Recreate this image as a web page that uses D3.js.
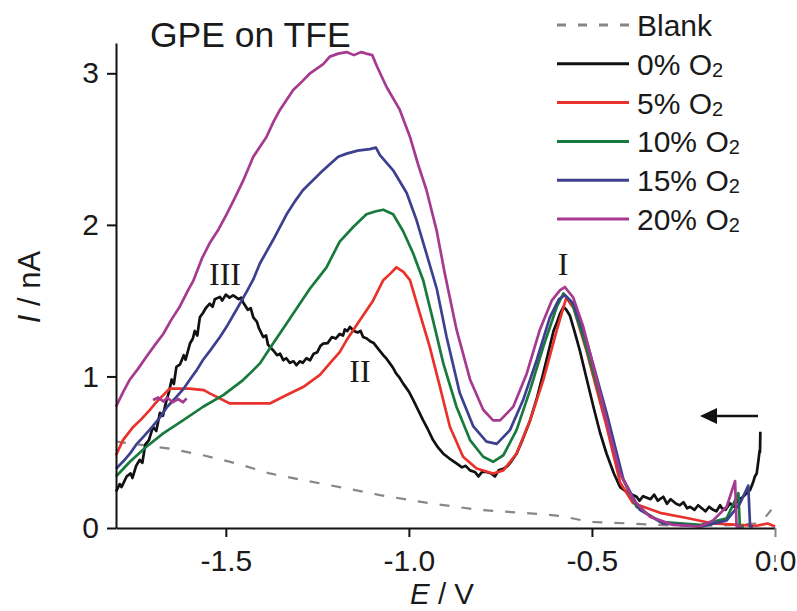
<!DOCTYPE html>
<html>
<head>
<meta charset="utf-8">
<script src="https://cdn.jsdelivr.net/npm/d3@7"></script>
<style>
  body { margin: 0; background: #fff; }
  svg { display: block; font-family: "Liberation Sans", Arial, sans-serif; }
</style>
</head>
<body>
<svg id="chart" width="797" height="611"></svg>
<script>
// potential (V) and current (nA)
var blank = [[-1.8,0.57],[-1.726,0.547],[-1.644,0.52],[-1.562,0.48],[-1.471,0.426],[-1.38,0.36],[-1.289,0.316],
  [-1.189,0.27],[-1.079,0.217],[-0.943,0.163],[-0.806,0.119],[-0.669,0.097],[-0.587,0.08],[-0.505,0.04],
  [-0.396,0.03],[-0.28,0.015],[-0.15,0.015],[-0.05,0.03],[-0.03,0.06],[-0.01,0.12]];

var o2_0 = [[-1.8,0.24],[-1.79,0.29],[-1.785,0.27],[-1.771,0.34],[-1.76,0.36],[-1.755,0.33],[-1.745,0.41],[-1.735,0.45],
  [-1.728,0.43],[-1.72,0.55],[-1.71,0.58],[-1.699,0.668],[-1.69,0.64],[-1.68,0.76],[-1.672,0.74],[-1.662,0.844],
  [-1.655,0.9],[-1.648,0.98],[-1.642,0.95],[-1.635,1.063],[-1.625,1.08],[-1.615,1.14],[-1.61,1.11],[-1.598,1.217],
  [-1.59,1.25],[-1.585,1.3],[-1.578,1.27],[-1.571,1.39],[-1.562,1.42],[-1.555,1.45],[-1.544,1.48],[-1.536,1.46],
  [-1.53,1.51],[-1.516,1.525],[-1.51,1.5],[-1.5,1.54],[-1.49,1.52],[-1.48,1.535],[-1.465,1.51],[-1.458,1.52],
  [-1.453,1.49],[-1.44,1.44],[-1.432,1.45],[-1.425,1.39],[-1.415,1.36],[-1.41,1.32],[-1.398,1.26],[-1.39,1.27],
  [-1.385,1.21],[-1.371,1.173],[-1.36,1.14],[-1.352,1.15],[-1.343,1.107],[-1.335,1.12],[-1.325,1.09],[-1.315,1.1],
  [-1.307,1.074],[-1.298,1.1],[-1.29,1.09],[-1.28,1.12],[-1.27,1.107],[-1.26,1.15],[-1.25,1.16],[-1.242,1.2],
  [-1.234,1.217],[-1.222,1.22],[-1.21,1.26],[-1.2,1.25],[-1.189,1.28],[-1.18,1.27],[-1.175,1.31],[-1.168,1.3],
  [-1.161,1.327],[-1.15,1.3],[-1.14,1.29],[-1.132,1.3],[-1.125,1.26],[-1.115,1.25],[-1.105,1.23],[-1.096,1.22],
  [-1.088,1.195],[-1.08,1.17],[-1.07,1.14],[-1.062,1.12],[-1.052,1.086],[-1.044,1.06],[-1.035,1.02],[-1.025,0.99],
  [-1.016,0.954],[-1.0,0.9],[-0.988,0.844],[-0.975,0.78],[-0.961,0.71],[-0.948,0.65],[-0.934,0.58],[-0.92,0.53],
  [-0.906,0.49],[-0.89,0.46],[-0.87,0.426],[-0.855,0.4],[-0.845,0.41],[-0.833,0.38],[-0.82,0.37],[-0.81,0.34],
  [-0.8,0.37],[-0.788,0.37],[-0.775,0.36],[-0.765,0.34],[-0.755,0.38],[-0.742,0.39],[-0.73,0.41],[-0.72,0.44],
  [-0.706,0.49],[-0.69,0.58],[-0.669,0.71],[-0.65,0.86],[-0.633,1.02],[-0.62,1.15],[-0.605,1.3],[-0.595,1.36],
  [-0.587,1.415],[-0.578,1.46],[-0.57,1.44],[-0.56,1.4],[-0.548,1.3],[-0.533,1.17],[-0.515,0.99],[-0.496,0.8],
  [-0.478,0.63],[-0.46,0.49],[-0.44,0.36],[-0.423,0.27],[-0.412,0.25],[-0.4,0.23],[-0.39,0.22],[-0.378,0.206],
  [-0.37,0.18],[-0.36,0.21],[-0.35,0.2],[-0.34,0.19],[-0.33,0.22],[-0.32,0.18],[-0.305,0.206],[-0.295,0.16],
  [-0.285,0.19],[-0.27,0.16],[-0.26,0.15],[-0.25,0.17],[-0.24,0.13],[-0.232,0.14],[-0.22,0.12],[-0.21,0.15],
  [-0.2,0.13],[-0.19,0.11],[-0.18,0.14],[-0.169,0.12],[-0.16,0.11],[-0.15,0.15],[-0.145,0.13],[-0.135,0.12],
  [-0.123,0.163],[-0.112,0.14],[-0.1,0.19],[-0.09,0.2],[-0.077,0.23],[-0.068,0.25],[-0.06,0.3],[-0.055,0.34],
  [-0.05,0.36],[-0.045,0.45],[-0.042,0.51],[-0.041,0.5],[-0.04,0.635]];

var o2_5 = [[-1.8,0.48],[-1.781,0.58],[-1.753,0.667],[-1.73,0.72],[-1.708,0.778],[-1.69,0.83],[-1.671,0.877],
  [-1.653,0.92],[-1.6,0.92],[-1.56,0.91],[-1.544,0.888],[-1.489,0.822],[-1.38,0.822],[-1.334,0.877],[-1.289,0.93],
  [-1.243,1.01],[-1.216,1.086],[-1.189,1.16],[-1.17,1.24],[-1.134,1.37],[-1.098,1.5],[-1.07,1.635],[-1.05,1.68],
  [-1.034,1.72],[-1.015,1.69],[-0.997,1.635],[-0.97,1.415],[-0.943,1.195],[-0.915,0.93],[-0.888,0.668],
  [-0.852,0.47],[-0.815,0.393],[-0.77,0.36],[-0.742,0.38],[-0.706,0.49],[-0.669,0.71],[-0.633,0.976],
  [-0.596,1.305],[-0.57,1.52],[-0.55,1.45],[-0.515,1.17],[-0.46,0.67],[-0.423,0.3],[-0.388,0.165],[-0.314,0.1],
  [-0.241,0.066],[-0.169,0.03],[-0.1,0.02],[-0.05,0.015],[-0.02,0.03],[0,0.01]];

var o2_10 = [[-1.8,0.34],[-1.762,0.437],[-1.717,0.536],[-1.671,0.624],[-1.617,0.71],[-1.562,0.8],[-1.507,0.877],
  [-1.453,0.976],[-1.43,1.03],[-1.407,1.086],[-1.371,1.217],[-1.334,1.35],[-1.298,1.48],[-1.27,1.58],[-1.252,1.635],
  [-1.225,1.72],[-1.189,1.89],[-1.152,1.986],[-1.116,2.07],[-1.09,2.09],[-1.07,2.1],[-1.043,2.07],[-1.016,1.96],
  [-0.988,1.81],[-0.961,1.635],[-0.934,1.37],[-0.906,1.086],[-0.87,0.8],[-0.833,0.58],[-0.797,0.47],[-0.77,0.437],
  [-0.742,0.48],[-0.706,0.646],[-0.669,0.91],[-0.633,1.195],[-0.596,1.46],[-0.578,1.547],[-0.555,1.49],
  [-0.524,1.26],[-0.469,0.8],[-0.423,0.36],[-0.378,0.14],[-0.314,0.04],[-0.205,0.02],[-0.132,0.064],[-0.1,0.23],
  [-0.096,0.01],[-0.085,0.01]];

var o2_15 = [[-1.8,0.39],[-1.78,0.44],[-1.762,0.49],[-1.745,0.55],[-1.726,0.6],[-1.7,0.67],[-1.68,0.73],[-1.66,0.8],
  [-1.635,0.865],[-1.615,0.92],[-1.598,0.98],[-1.58,1.04],[-1.562,1.11],[-1.54,1.18],[-1.516,1.26],[-1.495,1.34],
  [-1.471,1.44],[-1.443,1.56],[-1.425,1.64],[-1.407,1.745],[-1.371,1.9],[-1.334,2.07],[-1.31,2.16],[-1.289,2.23],
  [-1.243,2.34],[-1.216,2.4],[-1.193,2.45],[-1.17,2.47],[-1.14,2.49],[-1.107,2.5],[-1.09,2.51],[-1.079,2.46],
  [-1.043,2.36],[-1.006,2.21],[-0.979,2.03],[-0.952,1.81],[-0.924,1.58],[-0.897,1.26],[-0.861,0.89],[-0.824,0.67],
  [-0.788,0.57],[-0.76,0.555],[-0.724,0.646],[-0.688,0.844],[-0.651,1.107],[-0.615,1.39],[-0.59,1.51],
  [-0.574,1.536],[-0.55,1.48],[-0.515,1.24],[-0.46,0.76],[-0.414,0.32],[-0.369,0.12],[-0.306,0.03],[-0.2,0.01],
  [-0.132,0.05],[-0.096,0.16],[-0.073,0.28],[-0.068,0.01],[-0.06,0.01]];

var o2_20 = [[-1.8,0.8],[-1.78,0.9],[-1.762,0.98],[-1.74,1.05],[-1.717,1.13],[-1.69,1.22],[-1.671,1.28],[-1.65,1.37],
  [-1.626,1.46],[-1.603,1.57],[-1.589,1.63],[-1.565,1.78],[-1.544,1.88],[-1.52,1.97],[-1.498,2.07],[-1.475,2.18],
  [-1.453,2.29],[-1.425,2.45],[-1.389,2.58],[-1.37,2.68],[-1.352,2.76],[-1.316,2.89],[-1.29,2.95],[-1.27,3.0],
  [-1.234,3.06],[-1.216,3.11],[-1.193,3.13],[-1.17,3.14],[-1.15,3.12],[-1.13,3.14],[-1.116,3.13],[-1.1,3.12],
  [-1.088,3.05],[-1.061,2.91],[-1.025,2.76],[-0.997,2.58],[-0.975,2.4],[-0.952,2.23],[-0.924,1.96],[-0.902,1.68],
  [-0.87,1.31],[-0.833,0.98],[-0.797,0.78],[-0.77,0.71],[-0.751,0.71],[-0.715,0.8],[-0.678,1.02],[-0.642,1.31],
  [-0.61,1.5],[-0.587,1.57],[-0.574,1.59],[-0.551,1.52],[-0.524,1.33],[-0.487,0.98],[-0.451,0.62],[-0.423,0.36],
  [-0.387,0.185],[-0.342,0.075],[-0.278,0.02],[-0.205,0.01],[-0.169,0.05],[-0.132,0.14],[-0.109,0.31],
  [-0.105,0.01],[-0.09,0.01]];
// short stray piece of the 20% trace near -1.65 V
var o2_20b = [[-1.699,0.844],[-1.685,0.86],[-1.67,0.835],[-1.66,0.86],[-1.645,0.83],[-1.63,0.85],[-1.617,0.83],[-1.607,0.855]];

var series = [
  {name:"Blank", data:blank, color:"#8a8682", dash:"10,12"},
  {name:"0%", data:o2_0, color:"#111111"},
  {name:"5%", data:o2_5, color:"#e8322b"},
  {name:"10%", data:o2_10, color:"#187a3c"},
  {name:"15%", data:o2_15, color:"#3d3f8f"},
  {name:"20%", data:o2_20, color:"#a63a8e"}
];

var xTicks = [-1.5, -1.0, -0.5, 0.0];
var yTicks = [0, 1, 2, 3];

var svg = d3.select("#chart");
var x = d3.scaleLinear().domain([-1.8, 0]).range([116, 775]);
var y = d3.scaleLinear().domain([0, 3.2]).range([528, 43]);

var line = d3.line()
    .x(function(d){ return x(d[0]); })
    .y(function(d){ return y(d[1]); });

// curves
svg.append("g").attr("id","curves")
    .selectAll("path")
    .data(series)
    .enter()
    .append("path")
    .attr("d", function(d){ return line(d.data); })
    .attr("fill","none")
    .attr("stroke", function(d){ return d.color; })
    .attr("stroke-width", function(d){ return d.dash ? 2.2 : 2.7; })
    .attr("stroke-dasharray", function(d){ return d.dash || null; })
    .attr("stroke-linejoin","round");

svg.select("#curves").append("path")
    .attr("d", line(o2_20b))
    .attr("fill","none")
    .attr("stroke","#a63a8e")
    .attr("stroke-width",2.7);

// axes
var xAxis = d3.axisBottom(x).tickValues(xTicks)
    .tickFormat(function(d){ return d.toFixed(1); })
    .tickSize(9).tickSizeOuter(0).tickPadding(13);
var yAxis = d3.axisLeft(y).tickValues(yTicks)
    .tickFormat(function(d){ return d; })
    .tickSize(9).tickSizeOuter(0).tickPadding(8);

var gx = svg.append("g").attr("transform","translate(0,528)").call(xAxis);
var gy = svg.append("g").attr("transform","translate(116,0)").call(yAxis);
[gx, gy].forEach(function(g){
    g.select(".domain").attr("stroke","#111").attr("stroke-width",2);
    g.selectAll(".tick line").attr("stroke","#111").attr("stroke-width",2);
    g.selectAll(".tick text").attr("fill","#1a1a1a")
        .style("font-family","'Liberation Sans', Arial, sans-serif").style("font-size","30px");
});
// the 0.0 tick is grey in the original, with a grey stroke through its label
gx.selectAll(".tick").filter(function(d){ return d === 0; }).select("line").attr("stroke","#8a8682");
gx.append("line").attr("x1",x(0)).attr("x2",x(0)).attr("y1",27).attr("y2",34)
    .attr("stroke","#8a8682").attr("stroke-width",2);

// axis titles
var xt = svg.append("text").attr("x",442).attr("y",604).attr("text-anchor","middle")
    .attr("font-size",29.5).attr("fill","#1a1a1a");
xt.append("tspan").attr("font-style","italic").text("E");
xt.append("tspan").text(" / V");

var yt = svg.append("text").attr("transform","translate(40,287) rotate(-90)").attr("text-anchor","middle")
    .attr("font-size",31).attr("fill","#1a1a1a");
yt.append("tspan").attr("font-style","italic").text("I");
yt.append("tspan").text(" / nA");

// title
svg.append("text").attr("x",150).attr("y",47).attr("font-size",35.5).attr("fill","#1a1a1a").text("GPE on TFE");

// peak labels
var peaks = [{t:"III", x:225, y:285}, {t:"II", x:360, y:382}, {t:"I", x:563, y:275}];
svg.selectAll(".peak").data(peaks).enter().append("text")
    .attr("class","peak")
    .attr("x", function(d){ return d.x; })
    .attr("y", function(d){ return d.y; })
    .attr("text-anchor","middle")
    .attr("font-family","'Liberation Serif', 'Times New Roman', serif")
    .attr("font-size",32).attr("fill","#1a1a1a")
    .text(function(d){ return d.t; });

// scan direction arrow
svg.append("line").attr("x1",758).attr("y1",416).attr("x2",712).attr("y2",416)
    .attr("stroke","#111").attr("stroke-width",2.5);
svg.append("polygon").attr("points","700,416 717,408 717,424").attr("fill","#111");

// legend
var leg = svg.append("g").selectAll("g").data(series).enter().append("g")
    .attr("transform", function(d,i){ return "translate(0," + (25 + i*38.8) + ")"; });
leg.append("line").attr("x1",557).attr("x2",629).attr("y1",0).attr("y2",0)
    .attr("stroke", function(d){ return d.color; })
    .attr("stroke-width", 3)
    .attr("stroke-dasharray", function(d){ return d.dash ? "9,12" : null; });
var lt = leg.append("text").attr("x",637).attr("y",11).attr("font-size",30).attr("fill","#1a1a1a");
lt.each(function(d){
    var t = d3.select(this);
    if (d.dash) { t.text(d.name); return; }
    t.append("tspan").text(d.name + " O");
    t.append("tspan").attr("font-size",20).attr("dy",2).text("2");
});
</script>
</body>
</html>
